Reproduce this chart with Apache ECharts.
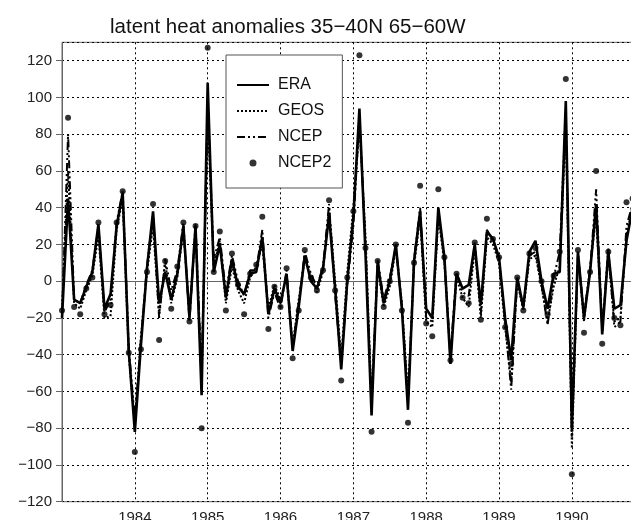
<!DOCTYPE html>
<html>
<head>
<meta charset="utf-8">
<script src="https://cdn.jsdelivr.net/npm/echarts@6/dist/echarts.min.js"></script>
<style>
  html, body { margin: 0; padding: 0; background: #fff; }
  #chart { width: 631px; height: 520px; }
</style>
</head>
<body>
<div id="chart"></div>
<script>
// Monthly latent heat flux anomalies (W/m2), box 35-40N 65-60W, Jan 1983 onward
const startYear = 1983;
const seriesNames = ['ERA', 'GEOS', 'NCEP', 'NCEP2'];

const era = [
  -20, 45, -10, -12, -3, 5, 31, -15, -7, 30, 48, -38,
  -82, -35, 7, 38, -12, 5, -10, 4, 30, -20, 30, -62,
  108, 5, 20, -9, 12, -3, -7, 4, 5, 24, -18, -4,
  -12, 4, -38, -14, 14, 0, -4, 7, 36, -4, -48, 0,
  35, 94, 15, -73, 10, -12, 0, 20, -15, -70, 11, 38,
  -15, -20, 40, 13, -45, 4, -4, -2, 20, -13, 27, 23,
  13, -20, -43, 2, -14, 16, 22, 0, -15, 4, 5, 98,
  -80, 16, -20, 5, 42, -29, 16, -15, -13, 22, 40
];
const geos = [
  -15, 60, -12, -15, -5, 3, 25, -20, -19, 28, 45, -40,
  -78, -30, 5, 30, -18, 10, -12, 2, 28, -18, 28, -55,
  90, 8, 22, -12, 8, -5, -12, 2, 8, 20, -15, -2,
  -10, 2, -35, -10, 12, 2, -6, 5, 40, 0, -42, 5,
  40, 85, 25, -65, 8, -14, -3, 18, -12, -62, 8, 35,
  -22, -25, 35, 10, -42, 2, -9, -14, 18, -20, 24, 20,
  10, -25, -55, 0, -16, 12, 14, -3, -22, -3, 8, 85,
  -91, 14, -22, 8, 35, -25, 14, -22, -20, 25, 40
];
const ncep = [
  -20, 80, -10, -12, -2, 6, 30, -17, -10, 32, 49, -36,
  -75, -32, 8, 36, -20, 12, -5, 6, 32, -22, 31, -50,
  95, 12, 24, -6, 14, 0, -8, 6, 6, 28, -20, -6,
  -15, 6, -36, -12, 16, 4, -3, 8, 42, -8, -45, -2,
  30, 90, 20, -68, 12, -10, 2, 19, -14, -65, 12, 40,
  -20, -22, 38, 12, -40, 5, -6, -8, 21, -18, 28, 22,
  12, -22, -59, 1, -15, 14, 16, -2, -24, 2, 16, 92,
  -85, 15, -18, 6, 50, -27, 18, -25, -22, 30, 42
];
const ncep2 = [
  -16, 89, -14, -18, -4, 2, 32, -18, -13, 32, 49, -39,
  -93, -37, 5, 42, -32, 11, -15, 8, 32, -22, 30, -80,
  127, 5, 27, -16, 15, -2, -18, 4, 9, 35, -26, -3,
  -14, 7, -42, -16, 17, 2, -5, 6, 44, -5, -54, 2,
  38, 123, 18, -82, 11, -14, 0, 20, -16, -77, 10, 52,
  -23, -30, 50, 13, -43, 4, -9, -12, 21, -21, 34, 23,
  13, -25, -45, 2, -16, 15, 18, 0, -18, 3, 16, 110,
  -105, 17, -28, 5, 60, -34, 16, -20, -24, 43, 45
];

const yearTicks = [1984, 1985, 1986, 1987, 1988, 1989, 1990];

function toPoints(values) {
  return values.map((v, i) => [startYear + i / 12, v]);
}

const minus = s => String(s).replace('-', '\u2212');
const ink = '#111';
const axisGray = '#666';
// line-series legend entries show only their line sample
const hideMarker = { opacity: 0 };

const chart = echarts.init(document.getElementById('chart'), null, { renderer: 'canvas' });

chart.setOption({
  backgroundColor: '#fff',
  animation: false,
  title: {
    text: 'latent heat anomalies 35\u221240N 65\u221260W',
    left: 110,
    top: 17,
    padding: 0,
    textStyle: {
      fontFamily: 'Liberation Sans',
      fontWeight: 'normal',
      fontSize: 20.5,
      color: ink
    }
  },
  grid: {
    left: 62,
    right: -3,
    top: 42.3,
    bottom: 18.3,
    show: true,
    borderColor: axisGray,
    borderWidth: 1,
    containLabel: false,
    outerBoundsMode: 'none'
  },
  legend: {
    orient: 'vertical',
    left: 226,
    top: 55,
    padding: [22, 11, 17, 10],
    itemWidth: 32,
    itemHeight: 14,
    itemGap: 10,
    backgroundColor: '#fff',
    borderColor: '#555',
    borderWidth: 1,
    textStyle: {
      fontFamily: 'Liberation Sans',
      fontSize: 16,
      color: ink,
      padding: [0, 0, 0, 4],
      lineHeight: 14
    },
    data: [
      { name: 'ERA', itemStyle: hideMarker },
      { name: 'GEOS', itemStyle: hideMarker },
      { name: 'NCEP', itemStyle: hideMarker },
      {
        name: 'NCEP2',
        icon: 'path://M0,0L0.01,0.01L0,0.01Z M32,14L31.99,13.99L32,13.99Z M19.5,7A3.5,3.5,0,1,1,12.5,7A3.5,3.5,0,1,1,19.5,7Z'
      }
    ]
  },
  xAxis: {
    type: 'value',
    min: startYear,
    max: 1990.853,
    interval: 1,
    axisLine: { show: true, lineStyle: { color: axisGray, width: 1 } },
    axisTick: { show: true, length: 5, lineStyle: { color: axisGray } },
    axisLabel: {
      showMinLabel: false,
      showMaxLabel: false,
      margin: 9,
      fontFamily: 'Liberation Sans',
      fontSize: 15,
      color: '#222',
      formatter: v => (yearTicks.indexOf(Math.round(v)) >= 0 ? String(Math.round(v)) : '')
    },
    splitLine: { show: true, lineStyle: { color: '#000', type: [2, 3], width: 1 } }
  },
  yAxis: {
    type: 'value',
    min: -120,
    max: 130,
    interval: 20,
    axisLine: { show: true, lineStyle: { color: axisGray, width: 1 } },
    axisTick: { show: true, length: 6, lineStyle: { color: axisGray } },
    axisLabel: {
      showMaxLabel: false,
      margin: 10,
      fontFamily: 'Liberation Sans',
      fontSize: 15,
      color: '#222',
      formatter: v => minus(v)
    },
    splitLine: { show: true, lineStyle: { color: '#000', type: [2, 3], width: 1 } }
  },
  series: [
    {
      name: 'GEOS',
      type: 'line',
      data: toPoints(geos),
      symbol: 'none',
      z: 3,
      lineStyle: { color: '#000', width: 2, type: [2, 2] },
      itemStyle: { color: '#000' }
    },
    {
      name: 'NCEP',
      type: 'line',
      data: toPoints(ncep),
      symbol: 'none',
      z: 3,
      lineStyle: { color: '#000', width: 2, type: [8, 3, 2, 3, 2, 3] },
      itemStyle: { color: '#000' }
    },
    {
      name: 'ERA',
      type: 'line',
      data: toPoints(era),
      symbol: 'none',
      z: 4,
      lineStyle: { color: '#000', width: 2.6, type: 'solid' },
      itemStyle: { color: '#000' }
    },
    {
      name: 'NCEP2',
      type: 'scatter',
      data: toPoints(ncep2),
      symbol: 'circle',
      symbolSize: 6,
      z: 5,
      itemStyle: { color: '#000' }
    }
  ]
});
</script>
</body>
</html>
